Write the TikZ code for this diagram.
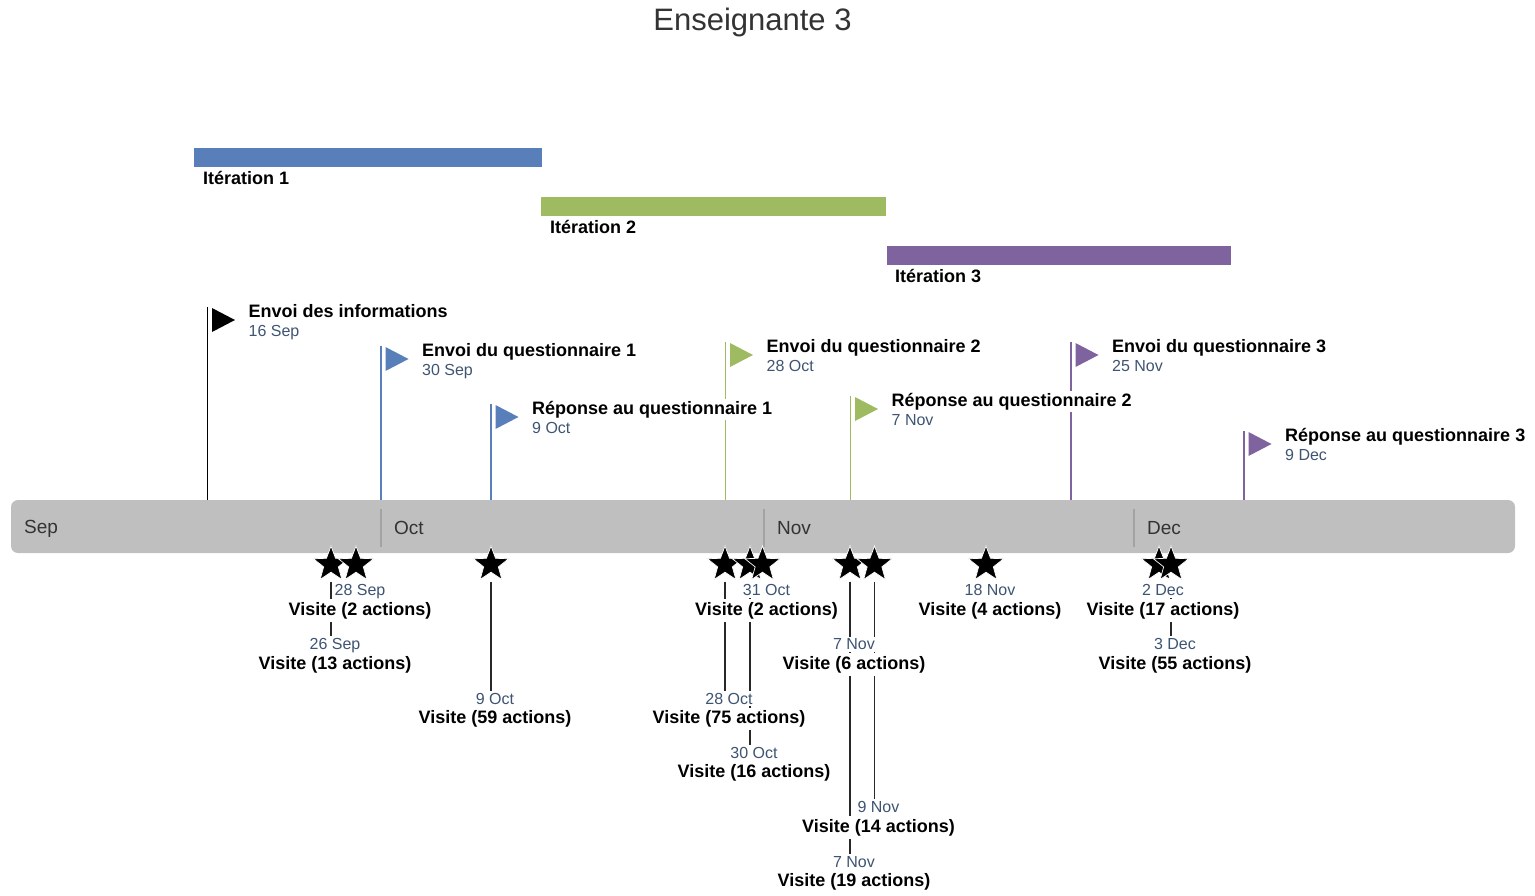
\documentclass[tikz,border=0pt]{standalone}
\usepackage{fontspec}
\setmainfont{Liberation Sans}
\usetikzlibrary{shapes.geometric,calc}
\pgfdeclarelayer{background}
\pgfsetlayers{background,main}

\definecolor{datecol}{RGB}{62,84,115}
\definecolor{itblue}{RGB}{88,127,186}
\definecolor{itgreen}{RGB}{158,187,98}
\definecolor{itpurple}{RGB}{126,99,158}
\definecolor{barfill}{RGB}{191,191,191}
\definecolor{sepgray}{RGB}{163,163,163}
\definecolor{darktxt}{RGB}{51,51,51}
\definecolor{connline}{RGB}{40,40,40}

% one visit: name, x, level below the bar, date, number of actions
\newcommand\visitlabel[5]{%
  \node[visdate] (#1d) at ({#2+4},{595.5+(#3-1)*54.3}) {#4};
  \node[vistxt] (#1v) at ({#2+4},{615+(#3-1)*54.3}) {Visite (#5 actions)};
}
% one milestone flag: name, x, top of pole, colour
\newcommand\flagpole[4]{%
  \coordinate (#1top) at (#2,#3);
  \coordinate (#1foot) at (#2,500);
  \draw[pole, #4] (#1top) -- (#1foot);
  \fill[#4] ($(#1top)+(4.5,1)$) -- ++(23,12) -- ++(-23,12) -- cycle;
}
% its caption: name, title, date
\newcommand\flaglabel[3]{%
  \node[flagtitle] (#1title) at ($(#1top)+(39,10)$) {#2};
  \node[flagdate] (#1date) at ($(#1top)+(41,29)$) {#3};
}

\begin{document}
\begin{tikzpicture}[x=1pt,y=-1pt,
  boldtxt/.style={font=\fontsize{18}{20}\selectfont\bfseries, text=black},
  flagtitle/.style={boldtxt, anchor=base west, fill=white, inner sep=2pt},
  flagdate/.style={font=\fontsize{16}{18}\selectfont, text=datecol, anchor=base west, inner sep=0pt},
  visdate/.style={font=\fontsize{16}{18}\selectfont, text=datecol, anchor=base, fill=white,
                  inner xsep=0pt, inner ysep=2pt},
  vistxt/.style={boldtxt, anchor=base, fill=white, inner sep=3pt},
  itlabel/.style={boldtxt, anchor=base west, inner sep=0pt},
  monthlbl/.style={font=\fontsize{19}{21}\selectfont, text=darktxt, anchor=base west, inner sep=0pt},
  sepline/.style={draw=sepgray, line width=1.5pt},
  pole/.style={line width=1.5pt},
  conn/.style={draw=connline, line width=1.4pt},
  vstar/.style={star, star points=5, star point ratio=2.4, minimum size=37pt,
                inner sep=0pt, fill=black, draw=white, line width=0.7pt}]

\useasboundingbox (0,0) rectangle (1535,895);

% title
\node[font=\fontsize{31}{33}\selectfont, text=darktxt, anchor=base] (title) at (752.5,30) {Enseignante 3};

% iterations
\fill[itblue]   (194,148) rectangle (542,167);
\fill[itgreen]  (541,197) rectangle (886,216);
\fill[itpurple] (887,246) rectangle (1231,265);
\node[itlabel] (it1) at (203,184) {Itération 1};
\node[itlabel] (it2) at (550,233) {Itération 2};
\node[itlabel] (it3) at (895,282) {Itération 3};

% time axis
\fill[barfill, rounded corners=7pt] (11,500) rectangle (1515,553);
\foreach \mx in {381,764,1134} \draw[sepline] (\mx,509) -- (\mx,547);
\node[monthlbl] (mSep) at (24,533) {Sep};
\node[monthlbl] (mOct) at (394,534) {Oct};
\node[monthlbl] (mNov) at (777,534) {Nov};
\node[monthlbl] (mDec) at (1147,534) {Dec};

% milestone flags
\begin{pgfonlayer}{background}
  \flagpole{fA}{207.5}{307}{black}
  \flagpole{fB}{381}{346}{itblue}
  \flagpole{fC}{491}{404}{itblue}
  \flagpole{fD}{725.5}{342}{itgreen}
  \flagpole{fE}{850.5}{396}{itgreen}
  \flagpole{fF}{1071}{342}{itpurple}
  \flagpole{fG}{1244}{431}{itpurple}
\end{pgfonlayer}
\flaglabel{fA}{Envoi des informations}{16 Sep}
\flaglabel{fB}{Envoi du questionnaire 1}{30 Sep}
\flaglabel{fC}{Réponse au questionnaire 1}{9 Oct}
\flaglabel{fD}{Envoi du questionnaire 2}{28 Oct}
\flaglabel{fE}{Réponse au questionnaire 2}{7 Nov}
\flaglabel{fF}{Envoi du questionnaire 3}{25 Nov}
\flaglabel{fG}{Réponse au questionnaire 3}{9 Dec}

% visits: labels
\visitlabel{va}{331}{2}{26 Sep}{13}
\visitlabel{vb}{356}{1}{28 Sep}{2}
\visitlabel{vc}{491}{3}{9 Oct}{59}
\visitlabel{vd}{725}{3}{28 Oct}{75}
\visitlabel{ve}{750}{4}{30 Oct}{16}
\visitlabel{vf}{762.5}{1}{31 Oct}{2}
\visitlabel{vg}{850}{2}{7 Nov}{6}
\visitlabel{vh}{850}{6}{7 Nov}{19}
\visitlabel{vi}{874.5}{5}{9 Nov}{14}
\visitlabel{vj}{986}{1}{18 Nov}{4}
\visitlabel{vk}{1159}{1}{2 Dec}{17}
\visitlabel{vl}{1171}{2}{3 Dec}{55}

% visits: stars
\node[vstar] (vas) at (331,564.5) {};
\node[vstar] (vbs) at (356,564.5) {};
\node[vstar] (vcs) at (491,564.5) {};
\node[vstar] (vds) at (725,564.5) {};
\node[vstar] (ves) at (750,564.5) {};
\node[vstar] (vfs) at (762.5,564.5) {};
\node[vstar] (vgs) at (850,564.5) {};
\node[vstar] (vhs) at (850,564.5) {};
\node[vstar] (vis) at (874.5,564.5) {};
\node[vstar] (vjs) at (986,564.5) {};
\node[vstar] (vks) at (1159,564.5) {};
\node[vstar] (vls) at (1171,564.5) {};

% visits: leaders from star to label
\begin{pgfonlayer}{background}
  \foreach \v in {va,vc,vd,ve,vg,vh,vi,vl}
    \draw[conn] ($(\v s.center)+(0,17)$) -- (\v s.center |- \v d.north);
\end{pgfonlayer}

\end{tikzpicture}
\end{document}
